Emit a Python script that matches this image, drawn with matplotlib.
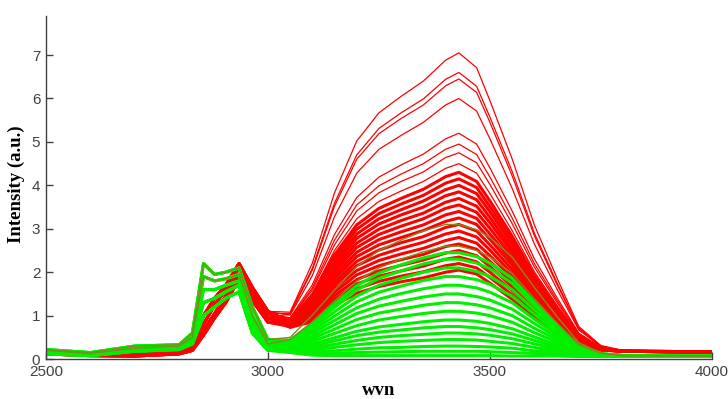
import matplotlib
matplotlib.use("Agg")
import matplotlib.pyplot as plt

wvn = [2500, 2600, 2700, 2800, 2830, 2855, 2880, 2905, 2935, 2965, 3000,
       3050, 3100, 3150, 3200, 3250, 3300, 3350, 3400, 3430, 3470, 3500,
       3550, 3600, 3650, 3700, 3750, 3800, 4000]

# red spectra, the few high ones standing apart at the top
red_upper = [
    [0.20, 0.14, 0.12, 0.20, 0.35, 1.00, 1.40, 1.70, 2.20, 1.65, 1.10, 1.08, 2.21, 3.83, 5.02, 5.67, 6.05, 6.40, 6.88, 7.05, 6.71, 5.95, 4.61, 3.09, 1.89, 0.75, 0.31, 0.20, 0.17],
    [0.18, 0.12, 0.10, 0.17, 0.30, 0.80, 1.25, 1.60, 2.10, 1.55, 1.05, 1.05, 2.09, 3.59, 4.70, 5.31, 5.67, 5.99, 6.44, 6.60, 6.28, 5.57, 4.32, 2.90, 1.78, 0.72, 0.30, 0.19, 0.16],
    [0.15, 0.10, 0.08, 0.15, 0.25, 0.65, 1.05, 1.45, 1.95, 1.45, 0.95, 1.04, 2.05, 3.52, 4.60, 5.19, 5.54, 5.85, 6.29, 6.45, 6.14, 5.45, 4.22, 2.84, 1.74, 0.70, 0.30, 0.19, 0.17],
    [0.20, 0.14, 0.12, 0.20, 0.35, 1.00, 1.40, 1.70, 2.20, 1.65, 1.10, 1.01, 1.92, 3.28, 4.28, 4.83, 5.15, 5.45, 5.85, 6.00, 5.71, 5.07, 3.93, 2.65, 1.63, 0.67, 0.29, 0.18, 0.16],
    [0.18, 0.12, 0.10, 0.17, 0.30, 0.80, 1.25, 1.60, 2.10, 1.55, 1.05, 0.95, 1.71, 2.87, 3.72, 4.19, 4.47, 4.72, 5.07, 5.20, 4.95, 4.40, 3.41, 2.31, 1.43, 0.60, 0.27, 0.18, 0.17],
    [0.12, 0.08, 0.07, 0.12, 0.20, 0.55, 0.95, 1.30, 1.85, 1.35, 0.85, 0.93, 1.64, 2.74, 3.55, 3.99, 4.26, 4.50, 4.83, 4.95, 4.71, 4.19, 3.25, 2.20, 1.37, 0.58, 0.27, 0.18, 0.16],
    [0.15, 0.10, 0.08, 0.15, 0.25, 0.65, 1.05, 1.45, 1.95, 1.45, 0.95, 0.92, 1.59, 2.63, 3.41, 3.83, 4.09, 4.31, 4.64, 4.75, 4.52, 4.02, 3.12, 2.12, 1.32, 0.56, 0.26, 0.18, 0.17],
    [0.20, 0.14, 0.12, 0.20, 0.35, 1.00, 1.40, 1.70, 2.20, 1.65, 1.10, 0.90, 1.52, 2.50, 3.23, 3.63, 3.87, 4.09, 4.39, 4.50, 4.28, 3.81, 2.96, 2.01, 1.25, 0.54, 0.26, 0.18, 0.16],
]

# the dense bundle of red spectra
red_bulk = [
    [0.18, 0.12, 0.10, 0.17, 0.30, 0.80, 1.25, 1.60, 2.10, 1.55, 1.05, 0.89, 1.47, 2.40, 3.09, 3.47, 3.70, 3.91, 4.20, 4.30, 4.09, 3.64, 2.83, 1.93, 1.20, 0.52, 0.25, 0.18, 0.17],
    [0.12, 0.08, 0.07, 0.12, 0.20, 0.55, 0.95, 1.30, 1.85, 1.35, 0.85, 0.88, 1.42, 2.32, 2.99, 3.35, 3.57, 3.77, 4.05, 4.15, 3.95, 3.51, 2.74, 1.86, 1.17, 0.51, 0.25, 0.18, 0.16],
    [0.20, 0.14, 0.12, 0.20, 0.35, 1.00, 1.40, 1.70, 2.20, 1.65, 1.10, 0.87, 1.38, 2.24, 2.88, 3.23, 3.44, 3.64, 3.90, 4.00, 3.81, 3.39, 2.64, 1.80, 1.13, 0.50, 0.25, 0.18, 0.17],
    [0.15, 0.10, 0.08, 0.15, 0.25, 0.65, 1.05, 1.45, 1.95, 1.45, 0.95, 0.86, 1.34, 2.16, 2.78, 3.11, 3.32, 3.50, 3.76, 3.85, 3.67, 3.26, 2.54, 1.73, 1.09, 0.48, 0.24, 0.18, 0.16],
    [0.18, 0.12, 0.10, 0.17, 0.30, 0.80, 1.25, 1.60, 2.10, 1.55, 1.05, 0.85, 1.30, 2.09, 2.67, 2.99, 3.19, 3.36, 3.61, 3.70, 3.52, 3.14, 2.45, 1.67, 1.05, 0.47, 0.24, 0.18, 0.17],
    [0.12, 0.08, 0.07, 0.12, 0.20, 0.55, 0.95, 1.30, 1.85, 1.35, 0.85, 0.84, 1.26, 2.01, 2.57, 2.87, 3.06, 3.23, 3.47, 3.55, 3.38, 3.01, 2.35, 1.61, 1.02, 0.46, 0.24, 0.18, 0.16],
    [0.20, 0.14, 0.12, 0.20, 0.35, 1.00, 1.40, 1.70, 2.20, 1.65, 1.10, 0.83, 1.22, 1.93, 2.46, 2.75, 2.93, 3.09, 3.32, 3.40, 3.24, 2.88, 2.25, 1.54, 0.98, 0.44, 0.23, 0.18, 0.17],
    [0.15, 0.10, 0.08, 0.15, 0.25, 0.65, 1.05, 1.45, 1.95, 1.45, 0.95, 0.82, 1.18, 1.85, 2.36, 2.63, 2.80, 2.96, 3.17, 3.25, 3.10, 2.76, 2.16, 1.48, 0.94, 0.43, 0.23, 0.18, 0.16],
    [0.18, 0.12, 0.10, 0.17, 0.30, 0.80, 1.25, 1.60, 2.10, 1.55, 1.05, 0.81, 1.14, 1.77, 2.25, 2.51, 2.68, 2.82, 3.03, 3.10, 2.95, 2.63, 2.06, 1.42, 0.90, 0.42, 0.23, 0.18, 0.17],
    [0.12, 0.08, 0.07, 0.12, 0.20, 0.55, 0.95, 1.30, 1.85, 1.35, 0.85, 0.79, 1.10, 1.70, 2.15, 2.39, 2.55, 2.69, 2.88, 2.95, 2.81, 2.51, 1.96, 1.35, 0.87, 0.41, 0.23, 0.18, 0.16],
    [0.20, 0.14, 0.12, 0.20, 0.35, 1.00, 1.40, 1.70, 2.20, 1.65, 1.10, 0.78, 1.06, 1.62, 2.04, 2.27, 2.42, 2.55, 2.73, 2.80, 2.67, 2.38, 1.87, 1.29, 0.83, 0.39, 0.22, 0.18, 0.17],
    [0.15, 0.10, 0.08, 0.15, 0.25, 0.65, 1.05, 1.45, 1.95, 1.45, 0.95, 0.77, 1.02, 1.54, 1.94, 2.15, 2.29, 2.41, 2.59, 2.65, 2.53, 2.25, 1.77, 1.22, 0.79, 0.38, 0.22, 0.18, 0.16],
    [0.18, 0.12, 0.10, 0.17, 0.30, 0.80, 1.25, 1.60, 2.10, 1.55, 1.05, 0.76, 0.98, 1.46, 1.83, 2.03, 2.16, 2.28, 2.44, 2.50, 2.38, 2.13, 1.67, 1.16, 0.75, 0.37, 0.22, 0.18, 0.17],
    [0.12, 0.08, 0.07, 0.12, 0.20, 0.55, 0.95, 1.30, 1.85, 1.35, 0.85, 0.75, 0.94, 1.38, 1.73, 1.91, 2.03, 2.14, 2.30, 2.35, 2.24, 2.00, 1.58, 1.10, 0.72, 0.36, 0.21, 0.18, 0.16],
    [0.20, 0.14, 0.12, 0.20, 0.35, 1.00, 1.40, 1.70, 2.20, 1.65, 1.10, 0.74, 0.90, 1.31, 1.62, 1.79, 1.91, 2.01, 2.15, 2.20, 2.10, 1.88, 1.48, 1.03, 0.68, 0.34, 0.21, 0.18, 0.17],
    [0.15, 0.10, 0.08, 0.15, 0.25, 0.65, 1.05, 1.45, 1.95, 1.45, 0.95, 0.73, 0.86, 1.23, 1.52, 1.67, 1.78, 1.87, 2.00, 2.05, 1.96, 1.75, 1.38, 0.97, 0.64, 0.33, 0.21, 0.18, 0.16],
]

# green spectra
green_bulk = [
    [0.22, 0.15, 0.30, 0.33, 0.60, 2.20, 1.95, 2.00, 2.10, 1.20, 0.45, 0.44, 0.81, 1.27, 1.69, 1.98, 2.17, 2.33, 2.45, 2.45, 2.36, 2.21, 1.86, 1.31, 0.79, 0.32, 0.13, 0.08, 0.07],
    [0.18, 0.12, 0.22, 0.28, 0.45, 1.60, 1.60, 1.70, 1.80, 0.85, 0.30, 0.42, 0.77, 1.19, 1.59, 1.86, 2.03, 2.19, 2.30, 2.30, 2.21, 2.08, 1.75, 1.23, 0.75, 0.30, 0.12, 0.08, 0.07],
    [0.20, 0.13, 0.25, 0.30, 0.50, 1.90, 1.80, 1.85, 1.95, 1.00, 0.35, 0.40, 0.71, 1.09, 1.45, 1.70, 1.86, 2.00, 2.10, 2.10, 2.02, 1.90, 1.60, 1.13, 0.69, 0.28, 0.12, 0.08, 0.07],
    [0.15, 0.10, 0.20, 0.25, 0.40, 1.30, 1.40, 1.55, 1.70, 0.70, 0.25, 0.38, 0.65, 0.99, 1.32, 1.54, 1.68, 1.81, 1.90, 1.90, 1.83, 1.72, 1.45, 1.03, 0.63, 0.26, 0.12, 0.08, 0.07],
    [0.22, 0.15, 0.30, 0.33, 0.60, 2.20, 1.95, 2.00, 2.10, 1.20, 0.45, 0.36, 0.59, 0.89, 1.18, 1.38, 1.51, 1.62, 1.70, 1.70, 1.64, 1.54, 1.30, 0.92, 0.57, 0.24, 0.11, 0.08, 0.07],
    [0.12, 0.08, 0.18, 0.22, 0.35, 1.00, 1.20, 1.40, 1.55, 0.60, 0.20, 0.34, 0.53, 0.79, 1.05, 1.22, 1.33, 1.43, 1.50, 1.50, 1.44, 1.36, 1.15, 0.82, 0.51, 0.22, 0.11, 0.08, 0.07],
    [0.18, 0.12, 0.22, 0.28, 0.45, 1.60, 1.60, 1.70, 1.80, 0.85, 0.30, 0.32, 0.47, 0.69, 0.91, 1.06, 1.15, 1.24, 1.30, 1.30, 1.25, 1.18, 1.00, 0.71, 0.45, 0.20, 0.10, 0.08, 0.07],
    [0.20, 0.13, 0.25, 0.30, 0.50, 1.90, 1.80, 1.85, 1.95, 1.00, 0.35, 0.30, 0.41, 0.59, 0.77, 0.90, 0.98, 1.05, 1.10, 1.10, 1.06, 1.00, 0.85, 0.61, 0.39, 0.18, 0.10, 0.08, 0.07],
    [0.15, 0.10, 0.20, 0.25, 0.40, 1.30, 1.40, 1.55, 1.70, 0.70, 0.25, 0.28, 0.35, 0.49, 0.64, 0.74, 0.80, 0.86, 0.90, 0.90, 0.87, 0.82, 0.70, 0.51, 0.33, 0.16, 0.10, 0.08, 0.07],
    [0.22, 0.15, 0.30, 0.33, 0.60, 2.20, 1.95, 2.00, 2.10, 1.20, 0.45, 0.27, 0.30, 0.42, 0.54, 0.62, 0.67, 0.72, 0.75, 0.75, 0.72, 0.68, 0.58, 0.43, 0.28, 0.15, 0.09, 0.07, 0.07],
    [0.12, 0.08, 0.18, 0.22, 0.35, 1.00, 1.20, 1.40, 1.55, 0.60, 0.20, 0.25, 0.26, 0.34, 0.43, 0.50, 0.54, 0.57, 0.60, 0.60, 0.58, 0.55, 0.47, 0.35, 0.24, 0.13, 0.09, 0.07, 0.06],
    [0.18, 0.12, 0.22, 0.28, 0.45, 1.60, 1.60, 1.70, 1.80, 0.85, 0.30, 0.24, 0.21, 0.27, 0.33, 0.38, 0.41, 0.43, 0.45, 0.45, 0.44, 0.41, 0.36, 0.27, 0.19, 0.12, 0.09, 0.07, 0.06],
    [0.20, 0.13, 0.25, 0.30, 0.50, 1.90, 1.80, 1.85, 1.95, 1.00, 0.35, 0.22, 0.17, 0.19, 0.23, 0.26, 0.27, 0.29, 0.30, 0.30, 0.29, 0.28, 0.25, 0.19, 0.15, 0.10, 0.08, 0.07, 0.06],
    [0.15, 0.10, 0.20, 0.25, 0.40, 1.30, 1.40, 1.55, 1.70, 0.70, 0.25, 0.20, 0.13, 0.13, 0.15, 0.16, 0.17, 0.18, 0.18, 0.18, 0.18, 0.17, 0.15, 0.13, 0.11, 0.08, 0.07, 0.06, 0.06],
    [0.12, 0.08, 0.18, 0.22, 0.35, 1.00, 1.20, 1.40, 1.55, 0.60, 0.20, 0.15, 0.09, 0.08, 0.08, 0.08, 0.08, 0.08, 0.08, 0.08, 0.08, 0.08, 0.07, 0.07, 0.07, 0.06, 0.06, 0.06, 0.06],
]

# two green spectra lying inside the red bundle (they look olive there)
green_top = [
    [0.22, 0.15, 0.30, 0.33, 0.60, 2.20, 1.95, 2.00, 2.10, 1.20, 0.45, 0.50, 1.01, 1.59, 2.13, 2.50, 2.74, 2.95, 3.10, 3.10, 2.98, 2.80, 2.35, 1.65, 0.99, 0.38, 0.14, 0.08, 0.08],
    [0.20, 0.13, 0.25, 0.30, 0.50, 1.90, 1.80, 1.85, 1.95, 1.00, 0.35, 0.45, 0.86, 1.34, 1.79, 2.10, 2.30, 2.47, 2.60, 2.60, 2.50, 2.35, 1.97, 1.39, 0.84, 0.33, 0.13, 0.08, 0.07],
]

yticks = [0, 1, 2, 3, 4, 5, 6, 7]
xticks = [2500, 3000, 3500, 4000]

fig = plt.figure(figsize=(7.28, 3.99), dpi=100)
ax = fig.add_axes([0.063, 0.10, 0.915, 0.86])

for s in red_upper:
    ax.plot(wvn, s, color="#ff0000", linewidth=0.9)
for s in red_bulk:
    ax.plot(wvn, s, color="#ff0000", linewidth=2.2)
for s in green_bulk:
    ax.plot(wvn, s, color="#00f000", linewidth=2.2)
for s in green_top:
    ax.plot(wvn, s, color="#808a20", linewidth=1.0)

ax.set_xlim(2500, 4000)
ax.set_ylim(0, 7.9)
ax.set_xticks(xticks)
ax.set_yticks(yticks)

for side in ["top", "right"]:
    ax.spines[side].set_visible(False)
for side in ["left", "bottom"]:
    ax.spines[side].set_color("#404040")
    ax.spines[side].set_linewidth(1.0)

ax.tick_params(direction="in", length=5, width=1.0, color="#404040",
               labelcolor="#404040", labelsize=11, pad=4)
for lab in ax.get_xticklabels() + ax.get_yticklabels():
    lab.set_family("Liberation Sans")

ax.set_xlabel("wvn", fontsize=13.5, fontweight="bold", family="Liberation Serif")
ax.set_ylabel("Intensity (a.u.)", fontsize=13.5, fontweight="bold",
              family="Liberation Serif")
ax.xaxis.set_label_coords(0.5, -0.066)
ax.yaxis.set_label_coords(-0.032, 0.51)

fig.savefig("out.png", dpi=100)
